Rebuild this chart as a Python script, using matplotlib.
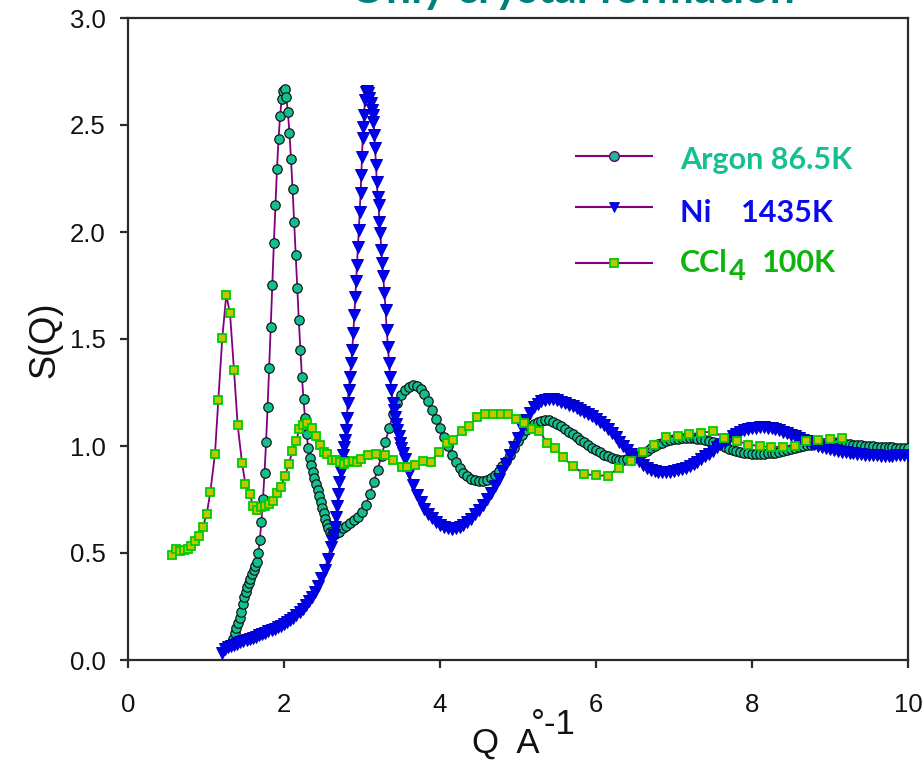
import numpy as np
import matplotlib
matplotlib.use("Agg")
import matplotlib.pyplot as plt
from matplotlib.lines import Line2D

# ---------------- data ----------------
# Argon 86.5K : uniform grid part 1 (Q = 1.33 ... 2.69, step 0.02)
ARGON_Q1_START, ARGON_Q1_STEP = 1.33, 0.02
ARGON_S1 = [0.085, 0.100, 0.125, 0.150, 0.172, 0.195, 0.225, 0.260, 0.295, 0.320,
            0.342, 0.360, 0.380, 0.400, 0.420, 0.440, 0.460, 0.500, 0.561, 0.646,
            0.751, 0.872, 1.017, 1.184, 1.366, 1.558, 1.752, 1.947, 2.126, 2.293,
            2.433, 2.544, 2.620, 2.660, 2.667, 2.630, 2.559, 2.463, 2.340, 2.200,
            2.047, 1.891, 1.737, 1.589, 1.449, 1.324, 1.218, 1.129, 1.055, 0.989,
            0.942, 0.910, 0.880, 0.852, 0.823, 0.795, 0.765, 0.737, 0.712, 0.686,
            0.660, 0.636, 0.615, 0.600, 0.590, 0.586, 0.588, 0.594, 0.600]
# Argon part 2 (Q = 2.70 ... 10.00, step 0.05)
ARGON_Q2_START, ARGON_Q2_STEP = 2.70, 0.05
ARGON_S2 = [0.600, 0.615, 0.628, 0.640, 0.652, 0.667, 0.690, 0.725, 0.775, 0.830,
            0.890, 0.955, 1.020, 1.085, 1.150, 1.200, 1.238, 1.263, 1.278, 1.285,
            1.280, 1.265, 1.242, 1.210, 1.170, 1.128, 1.085, 1.042, 1.000, 0.960,
            0.925, 0.897, 0.875, 0.860, 0.848, 0.840, 0.835, 0.835, 0.840, 0.850,
            0.864, 0.882, 0.905, 0.932, 0.960, 0.992, 1.023, 1.050, 1.073, 1.090,
            1.103, 1.112, 1.118, 1.121, 1.120, 1.114, 1.105, 1.093, 1.080, 1.067,
            1.055, 1.043, 1.030, 1.017, 1.005, 0.992, 0.980, 0.970, 0.960, 0.951,
            0.944, 0.939, 0.936, 0.935, 0.937, 0.941, 0.948, 0.957, 0.967, 0.978,
            0.990, 0.999, 1.008, 1.015, 1.022, 1.027, 1.032, 1.035, 1.037, 1.038,
            1.038, 1.037, 1.035, 1.033, 1.029, 1.024, 1.018, 1.010, 1.003, 0.995,
            0.988, 0.981, 0.975, 0.971, 0.968, 0.966, 0.964, 0.963, 0.963, 0.964,
            0.965, 0.967, 0.969, 0.972, 0.976, 0.980, 0.985, 0.990, 0.995, 1.000,
            1.004, 1.007, 1.010, 1.012, 1.013, 1.014, 1.014, 1.014, 1.013, 1.012,
            1.010, 1.008, 1.007, 1.005, 1.003, 1.001, 1.000, 0.998, 0.997, 0.996,
            0.995, 0.994, 0.993, 0.992, 0.991, 0.990, 0.990]

# Ni 1435K : part 1 (Q = 1.20 ... 2.60, step 0.04)
NI_Q1_START, NI_Q1_STEP = 1.20, 0.04
NI_S1 = [0.035, 0.050, 0.060, 0.067, 0.072, 0.077, 0.082, 0.087, 0.092, 0.097,
         0.103, 0.109, 0.116, 0.122, 0.128, 0.134, 0.140, 0.146, 0.152, 0.160,
         0.168, 0.177, 0.186, 0.196, 0.208, 0.222, 0.238, 0.255, 0.274, 0.296,
         0.320, 0.348, 0.382, 0.422, 0.472, 0.530]
# Ni main peak (explicit Q)
NI_Q2 = [2.620, 2.635, 2.650, 2.665, 2.680, 2.695, 2.710, 2.725, 2.740, 2.755,
         2.770, 2.782, 2.795, 2.805, 2.816, 2.830, 2.845, 2.860, 2.875, 2.888,
         2.902, 2.915, 2.925, 2.935, 2.947, 2.960, 2.970, 2.982, 2.991, 3.000,
         3.009, 3.018, 3.027, 3.038, 3.050, 3.065, 3.080, 3.095, 3.110, 3.125,
         3.137, 3.146, 3.158, 3.167, 3.180, 3.189, 3.201, 3.213, 3.222, 3.235,
         3.247, 3.258, 3.272, 3.287, 3.303, 3.316, 3.333, 3.346, 3.360, 3.378,
         3.393, 3.410, 3.425, 3.440, 3.455, 3.470, 3.487, 3.504, 3.521]
NI_S2 = [0.555, 0.585, 0.620, 0.670, 0.720, 0.775, 0.830, 0.880, 0.925, 0.960,
         0.995, 1.030, 1.075, 1.129, 1.200, 1.262, 1.324, 1.386, 1.449, 1.527,
         1.612, 1.698, 1.770, 1.846, 1.931, 2.009, 2.095, 2.181, 2.266, 2.352,
         2.438, 2.492, 2.547, 2.617, 2.652, 2.660, 2.648, 2.625, 2.601, 2.570,
         2.547, 2.516, 2.453, 2.391, 2.313, 2.235, 2.165, 2.126, 2.048, 1.994,
         1.916, 1.854, 1.795, 1.713, 1.636, 1.542, 1.464, 1.386, 1.324, 1.262,
         1.200, 1.168, 1.137, 1.105, 1.075, 1.045, 1.012, 0.990, 0.966]
# Ni part 3 (Q = 3.55 ... 10.00, step 0.05)
NI_Q3_START, NI_Q3_STEP = 3.55, 0.05
NI_S3 = [0.940, 0.875, 0.818, 0.772, 0.737, 0.707, 0.682, 0.662, 0.645, 0.632,
         0.622, 0.616, 0.614, 0.615, 0.621, 0.631, 0.645, 0.661, 0.680, 0.701,
         0.725, 0.751, 0.780, 0.811, 0.845, 0.881, 0.918, 0.956, 0.996, 1.038,
         1.082, 1.122, 1.155, 1.180, 1.198, 1.209, 1.216, 1.219, 1.218, 1.213,
         1.207, 1.200, 1.192, 1.185, 1.177, 1.168, 1.160, 1.150, 1.140, 1.128,
         1.113, 1.097, 1.080, 1.060, 1.040, 1.020, 1.000, 0.980, 0.962, 0.945,
         0.928, 0.912, 0.899, 0.890, 0.883, 0.879, 0.877, 0.877, 0.879, 0.882,
         0.886, 0.891, 0.898, 0.906, 0.916, 0.927, 0.939, 0.951, 0.964, 0.978,
         0.993, 1.008, 1.022, 1.035, 1.047, 1.057, 1.066, 1.073, 1.079, 1.083,
         1.086, 1.087, 1.087, 1.086, 1.083, 1.079, 1.073, 1.067, 1.060, 1.052,
         1.045, 1.037, 1.030, 1.022, 1.015, 1.008, 1.001, 0.995, 0.990, 0.985,
         0.981, 0.977, 0.973, 0.970, 0.967, 0.965, 0.963, 0.961, 0.959, 0.958,
         0.957, 0.956, 0.955, 0.955, 0.955, 0.955, 0.956, 0.957, 0.958, 0.960]

# CCl4 100K (explicit points)
CCL4_Q = [0.560, 0.610, 0.670, 0.715, 0.765, 0.810, 0.860, 0.910, 0.960, 1.010,
          1.056, 1.115, 1.158, 1.209, 1.260, 1.308, 1.359, 1.406, 1.462, 1.504,
          1.560, 1.603, 1.654, 1.705, 1.761, 1.812, 1.859, 1.906, 1.962, 2.009,
          2.064, 2.107, 2.158, 2.197, 2.248, 2.299, 2.363, 2.415, 2.457, 2.513,
          2.556, 2.615, 2.667, 2.718, 2.769, 2.821, 2.880, 2.931, 2.991, 3.081,
          3.179, 3.295, 3.393, 3.509, 3.581, 3.679, 3.786, 3.885, 3.987, 4.085,
          4.171, 4.278, 4.376, 4.479, 4.581, 4.684, 4.782, 4.876, 4.979, 5.081,
          5.179, 5.274, 5.372, 5.474, 5.577, 5.701, 5.850, 6.004, 6.150, 6.299,
          6.449, 6.603, 6.748, 6.897, 7.051, 7.197, 7.346, 7.496, 7.645, 7.803,
          7.949, 8.098, 8.244, 8.402, 8.551, 8.697, 8.850, 9.000, 9.150]
CCL4_S = [0.491, 0.519, 0.511, 0.514, 0.517, 0.534, 0.556, 0.581, 0.623, 0.682,
          0.787, 0.963, 1.215, 1.506, 1.706, 1.620, 1.354, 1.098, 0.921, 0.824,
          0.777, 0.720, 0.701, 0.713, 0.720, 0.729, 0.745, 0.782, 0.810, 0.860,
          0.917, 0.977, 1.025, 1.079, 1.096, 1.106, 1.084, 1.048, 1.005, 0.971,
          0.963, 0.935, 0.933, 0.923, 0.914, 0.925, 0.930, 0.927, 0.939, 0.958,
          0.963, 0.956, 0.936, 0.903, 0.900, 0.911, 0.931, 0.927, 0.974, 1.016,
          1.028, 1.072, 1.095, 1.134, 1.151, 1.151, 1.151, 1.150, 1.126, 1.106,
          1.079, 1.070, 1.016, 0.989, 0.947, 0.907, 0.868, 0.863, 0.861, 0.899,
          0.931, 0.972, 1.003, 1.041, 1.047, 1.056, 1.061, 1.069, 1.039, 1.025,
          1.006, 1.000, 0.995, 0.997, 1.001, 1.023, 1.028, 1.033, 1.039]

X_TICKS = [0, 2, 4, 6, 8, 10]
Y_TICKS = [0.0, 0.5, 1.0, 1.5, 2.0, 2.5, 3.0]
LEGEND_LABELS = ["Argon 86.5K", "Ni    1435K", "CCl", "4", "100K"]
TITLE = "Only crystal formation"

# ---------------- assemble series ----------------
argon_q = np.concatenate([ARGON_Q1_START + ARGON_Q1_STEP * np.arange(len(ARGON_S1)),
                          ARGON_Q2_START + ARGON_Q2_STEP * np.arange(len(ARGON_S2))])
argon_s = np.array(ARGON_S1 + ARGON_S2)
ni_q = np.concatenate([NI_Q1_START + NI_Q1_STEP * np.arange(len(NI_S1)),
                       np.array(NI_Q2),
                       NI_Q3_START + NI_Q3_STEP * np.arange(len(NI_S3))])
ni_s = np.array(NI_S1 + NI_S2 + NI_S3)

# ---------------- styles ----------------
LINE_C = "#800080"
AR_FACE, AR_EDGE = "#12BF8F", "#111111"
NI_FACE, NI_EDGE = "#0000F2", "#0000C0"
CC_FACE, CC_EDGE = "#C4C400", "#00CC00"
AR_TXT, NI_TXT, CC_TXT = "#16BF8F", "#0A0AEE", "#0CB40C"

TICK_FONT = ["Liberation Sans Narrow", "Liberation Sans", "DejaVu Sans"]
BOLD_FONT = ["Lato", "DejaVu Sans"]

W, H = 924, 760
fig = plt.figure(figsize=(W / 100, H / 100), dpi=100)
fig.patch.set_facecolor("white")
ax = fig.add_axes([128 / W, (H - 660) / H, 780 / W, 642 / H])

ax.plot(argon_q, argon_s, color=LINE_C, lw=1.3, marker="o", ms=6.8,
        mfc=AR_FACE, mec=AR_EDGE, mew=0.85, zorder=3)
ax.plot(ni_q, ni_s, color=LINE_C, lw=1.3, marker="v", ms=8.0,
        mfc=NI_FACE, mec=NI_EDGE, mew=0.7, zorder=4)
ax.plot(CCL4_Q, CCL4_S, color=LINE_C, lw=1.3, marker="s", ms=6.0,
        mfc=CC_FACE, mec=CC_EDGE, mew=1.3, zorder=5)

ax.set_xlim(0, 10)
ax.set_ylim(0, 3.0)
ax.set_xticks(X_TICKS)
ax.set_yticks(Y_TICKS)
ax.set_xticklabels([str(t) for t in X_TICKS])
ax.set_yticklabels(["%.1f" % t for t in Y_TICKS])
for sp in ax.spines.values():
    sp.set_linewidth(1.6)
    sp.set_color("#2b2b2b")
ax.tick_params(axis="both", direction="out", length=6, width=1.6, color="#2b2b2b")
ax.tick_params(axis="x", pad=18, top=False)
ax.tick_params(axis="y", pad=10, right=False)
for lab in ax.get_xticklabels() + ax.get_yticklabels():
    lab.set_family(TICK_FONT)
    lab.set_fontsize(18.5)
    lab.set_color("#111111")

# axis labels
fig.text(45 / W, 1 - 340 / H, "S(Q)", rotation=90, ha="center", va="center",
         fontsize=26, family=["Liberation Sans", "DejaVu Sans"], color="#111111")
fig.text(472 / W, 1 - 753 / H, "Q  A", ha="left", va="baseline",
         fontsize=25, family=TICK_FONT, color="#111111")
fig.text(531 / W, 1 - 734 / H, "°-1", ha="left", va="baseline",
         fontsize=25, family=TICK_FONT, color="#111111")

# title (cut at top edge)
fig.text(572 / W, 1 - 3 / H, TITLE, ha="center", va="baseline",
         fontsize=32, fontweight="bold", family=BOLD_FONT, color="#00807C")

# manual legend
def handle(y_px, marker, ms, mfc, mec, mew):
    y = (660 - y_px) / 642
    x0, x1 = (576 - 128) / 780, (652 - 128) / 780
    ax.add_line(Line2D([x0, x1], [y, y], transform=ax.transAxes, color=LINE_C,
                       lw=1.5, clip_on=False, zorder=6))
    ax.add_line(Line2D([(x0 + x1) / 2], [y], transform=ax.transAxes, marker=marker,
                       ms=ms, mfc=mfc, mec=mec, mew=mew, ls="none",
                       clip_on=False, zorder=7))

handle(156, "o", 7, AR_FACE, "#6a006a", 1.0)
handle(207, "v", 7, NI_FACE, NI_EDGE, 0.6)
handle(263, "s", 6, CC_FACE, CC_EDGE, 1.3)

def ltxt(x_px, base_px, s, c, fs=22):
    return fig.text(x_px / W, 1 - base_px / H, s, ha="left", va="baseline",
                    fontsize=fs, fontweight="bold", family=BOLD_FONT, color=c)

ltxt(680, 169, LEGEND_LABELS[0], AR_TXT)
ltxt(680, 222, LEGEND_LABELS[1], NI_TXT)
t_ccl = ltxt(680, 272, LEGEND_LABELS[2], CC_TXT)
fig.canvas.draw()
bb = t_ccl.get_window_extent(renderer=fig.canvas.get_renderer())
x_sub = bb.x1 + 1
ltxt(x_sub, 280, LEGEND_LABELS[3], CC_TXT, fs=21)
ltxt(x_sub + 33, 272, LEGEND_LABELS[4], CC_TXT)

fig.savefig("out.png", dpi=100)
